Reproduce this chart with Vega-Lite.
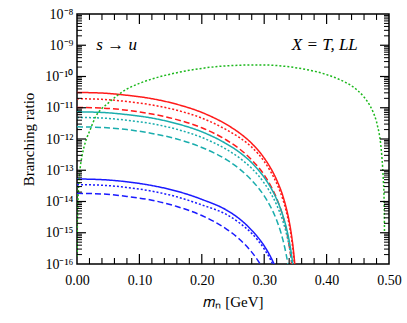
{
"$schema":"https://vega.github.io/schema/vega-lite/v6.json",
"width":312,"height":250,"autosize":"none",
"padding":{"left":77,"top":14,"right":18,"bottom":59},
"config":{"font":"Liberation Serif","view":{"stroke":"black","strokeWidth":1.5},
"axis":{"grid":false,"domain":false,"ticks":false,"tickSize":0,"labelColor":"black","titleColor":"black","titleFontWeight":"normal","labelFontSize":14,"titleFontSize":15,"labelFont":"Liberation Serif","titleFont":"Liberation Serif","labelFlush":false,"labelOverlap":false}},
"data":{"values":[
{"x":0,"y":3.09e-11,"s":"rs"},{"x":0.04,"y":2.95e-11,"s":"rs"},{"x":0.08,"y":2.51e-11,"s":"rs"},{"x":0.12,"y":1.95e-11,"s":"rs"},{"x":0.16,"y":1.29e-11,"s":"rs"},{"x":0.2,"y":7.08e-12,"s":"rs"},{"x":0.24,"y":2.88e-12,"s":"rs"},{"x":0.26,"y":1.58e-12,"s":"rs"},{"x":0.28,"y":7.24e-13,"s":"rs"},{"x":0.3,"y":2.45e-13,"s":"rs"},{"x":0.31,"y":1.2e-13,"s":"rs"},{"x":0.32,"y":4.9e-14,"s":"rs"},{"x":0.33,"y":1.48e-14,"s":"rs"},{"x":0.335,"y":6.61e-15,"s":"rs"},{"x":0.34,"y":2.34e-15,"s":"rs"},{"x":0.344,"y":7.76e-16,"s":"rs"},{"x":0.347,"y":2.57e-16,"s":"rs"},{"x":0.35,"y":5.37e-17,"s":"rs"},{"x":0.352,"y":1.12e-17,"s":"rs"},
{"x":0,"y":1.95e-11,"s":"rt"},{"x":0.04,"y":1.86e-11,"s":"rt"},{"x":0.08,"y":1.58e-11,"s":"rt"},{"x":0.12,"y":1.23e-11,"s":"rt"},{"x":0.16,"y":8.32e-12,"s":"rt"},{"x":0.2,"y":4.68e-12,"s":"rt"},{"x":0.24,"y":1.95e-12,"s":"rt"},{"x":0.26,"y":1.12e-12,"s":"rt"},{"x":0.28,"y":5.5e-13,"s":"rt"},{"x":0.3,"y":1.91e-13,"s":"rt"},{"x":0.31,"y":9.33e-14,"s":"rt"},{"x":0.32,"y":3.8e-14,"s":"rt"},{"x":0.33,"y":1.15e-14,"s":"rt"},{"x":0.335,"y":5.13e-15,"s":"rt"},{"x":0.34,"y":1.82e-15,"s":"rt"},{"x":0.344,"y":6.03e-16,"s":"rt"},{"x":0.347,"y":2.0e-16,"s":"rt"},{"x":0.35,"y":4.17e-17,"s":"rt"},
{"x":0,"y":1.02e-11,"s":"rd"},{"x":0.04,"y":9.77e-12,"s":"rd"},{"x":0.08,"y":8.32e-12,"s":"rd"},{"x":0.12,"y":6.31e-12,"s":"rd"},{"x":0.16,"y":4.17e-12,"s":"rd"},{"x":0.2,"y":2.29e-12,"s":"rd"},{"x":0.24,"y":9.12e-13,"s":"rd"},{"x":0.26,"y":4.9e-13,"s":"rd"},{"x":0.28,"y":2.14e-13,"s":"rd"},{"x":0.3,"y":7.08e-14,"s":"rd"},{"x":0.31,"y":3.31e-14,"s":"rd"},{"x":0.32,"y":1.26e-14,"s":"rd"},{"x":0.33,"y":3.31e-15,"s":"rd"},{"x":0.335,"y":1.35e-15,"s":"rd"},{"x":0.34,"y":3.98e-16,"s":"rd"},{"x":0.344,"y":1.0e-16,"s":"rd"},{"x":0.347,"y":2.24e-17,"s":"rd"},
{"x":0,"y":7.41e-12,"s":"cs"},{"x":0.04,"y":7.08e-12,"s":"cs"},{"x":0.08,"y":6.03e-12,"s":"cs"},{"x":0.12,"y":4.68e-12,"s":"cs"},{"x":0.16,"y":3.09e-12,"s":"cs"},{"x":0.2,"y":1.7e-12,"s":"cs"},{"x":0.24,"y":6.92e-13,"s":"cs"},{"x":0.26,"y":3.8e-13,"s":"cs"},{"x":0.28,"y":1.74e-13,"s":"cs"},{"x":0.3,"y":5.89e-14,"s":"cs"},{"x":0.31,"y":2.88e-14,"s":"cs"},{"x":0.32,"y":1.17e-14,"s":"cs"},{"x":0.33,"y":3.55e-15,"s":"cs"},{"x":0.335,"y":1.58e-15,"s":"cs"},{"x":0.34,"y":5.62e-16,"s":"cs"},{"x":0.344,"y":1.86e-16,"s":"cs"},{"x":0.347,"y":6.17e-17,"s":"cs"},
{"x":0,"y":4.9e-12,"s":"ct"},{"x":0.04,"y":4.68e-12,"s":"ct"},{"x":0.08,"y":3.98e-12,"s":"ct"},{"x":0.12,"y":3.09e-12,"s":"ct"},{"x":0.16,"y":2.04e-12,"s":"ct"},{"x":0.2,"y":1.12e-12,"s":"ct"},{"x":0.24,"y":4.57e-13,"s":"ct"},{"x":0.26,"y":2.51e-13,"s":"ct"},{"x":0.28,"y":1.15e-13,"s":"ct"},{"x":0.3,"y":3.89e-14,"s":"ct"},{"x":0.31,"y":1.91e-14,"s":"ct"},{"x":0.32,"y":7.76e-15,"s":"ct"},{"x":0.33,"y":2.34e-15,"s":"ct"},{"x":0.335,"y":1.05e-15,"s":"ct"},{"x":0.34,"y":3.72e-16,"s":"ct"},{"x":0.344,"y":1.23e-16,"s":"ct"},{"x":0.347,"y":4.07e-17,"s":"ct"},
{"x":0,"y":2.45e-12,"s":"cd"},{"x":0.04,"y":2.34e-12,"s":"cd"},{"x":0.08,"y":2.0e-12,"s":"cd"},{"x":0.12,"y":1.51e-12,"s":"cd"},{"x":0.16,"y":1.0e-12,"s":"cd"},{"x":0.2,"y":5.37e-13,"s":"cd"},{"x":0.24,"y":2.14e-13,"s":"cd"},{"x":0.26,"y":1.12e-13,"s":"cd"},{"x":0.28,"y":4.79e-14,"s":"cd"},{"x":0.3,"y":1.51e-14,"s":"cd"},{"x":0.31,"y":6.92e-15,"s":"cd"},{"x":0.32,"y":2.51e-15,"s":"cd"},{"x":0.33,"y":5.89e-16,"s":"cd"},{"x":0.335,"y":2.14e-16,"s":"cd"},{"x":0.338,"y":1.0e-16,"s":"cd"},{"x":0.341,"y":3.8e-17,"s":"cd"},
{"x":0,"y":5.25e-14,"s":"bs"},{"x":0.04,"y":5.01e-14,"s":"bs"},{"x":0.08,"y":4.27e-14,"s":"bs"},{"x":0.12,"y":3.24e-14,"s":"bs"},{"x":0.16,"y":2.14e-14,"s":"bs"},{"x":0.2,"y":1.17e-14,"s":"bs"},{"x":0.24,"y":5.25e-15,"s":"bs"},{"x":0.26,"y":2.82e-15,"s":"bs"},{"x":0.28,"y":1.2e-15,"s":"bs"},{"x":0.3,"y":3.8e-16,"s":"bs"},{"x":0.31,"y":1.74e-16,"s":"bs"},{"x":0.32,"y":6.46e-17,"s":"bs"},
{"x":0,"y":3.47e-14,"s":"bt"},{"x":0.04,"y":3.31e-14,"s":"bt"},{"x":0.08,"y":2.82e-14,"s":"bt"},{"x":0.12,"y":2.14e-14,"s":"bt"},{"x":0.16,"y":1.41e-14,"s":"bt"},{"x":0.2,"y":7.76e-15,"s":"bt"},{"x":0.24,"y":3.8e-15,"s":"bt"},{"x":0.26,"y":2.09e-15,"s":"bt"},{"x":0.28,"y":9.55e-16,"s":"bt"},{"x":0.3,"y":3.02e-16,"s":"bt"},{"x":0.31,"y":1.38e-16,"s":"bt"},{"x":0.32,"y":5.01e-17,"s":"bt"},
{"x":0,"y":1.82e-14,"s":"bd"},{"x":0.04,"y":1.74e-14,"s":"bd"},{"x":0.08,"y":1.45e-14,"s":"bd"},{"x":0.12,"y":1.1e-14,"s":"bd"},{"x":0.16,"y":6.92e-15,"s":"bd"},{"x":0.2,"y":3.55e-15,"s":"bd"},{"x":0.24,"y":1.29e-15,"s":"bd"},{"x":0.26,"y":6.31e-16,"s":"bd"},{"x":0.28,"y":2.4e-16,"s":"bd"},{"x":0.29,"y":1.29e-16,"s":"bd"},{"x":0.3,"y":5.89e-17,"s":"bd"},
{"x":0.0002,"y":1.78e-16,"s":"g"},{"x":0.0005,"y":1.12e-15,"s":"g"},{"x":0.001,"y":4.47e-15,"s":"g"},{"x":0.002,"y":1.78e-14,"s":"g"},{"x":0.004,"y":7.08e-14,"s":"g"},{"x":0.008,"y":2.82e-13,"s":"g"},{"x":0.012,"y":6.31e-13,"s":"g"},{"x":0.016,"y":1.12e-12,"s":"g"},{"x":0.02,"y":1.74e-12,"s":"g"},{"x":0.03,"y":5.25e-12,"s":"g"},{"x":0.04,"y":9.55e-12,"s":"g"},{"x":0.05,"y":1.41e-11,"s":"g"},{"x":0.06,"y":2.09e-11,"s":"g"},{"x":0.08,"y":3.98e-11,"s":"g"},{"x":0.1,"y":6.03e-11,"s":"g"},{"x":0.12,"y":8.32e-11,"s":"g"},{"x":0.14,"y":1.07e-10,"s":"g"},{"x":0.16,"y":1.32e-10,"s":"g"},{"x":0.18,"y":1.58e-10,"s":"g"},{"x":0.2,"y":1.82e-10,"s":"g"},{"x":0.22,"y":2.04e-10,"s":"g"},{"x":0.24,"y":2.19e-10,"s":"g"},{"x":0.26,"y":2.29e-10,"s":"g"},{"x":0.28,"y":2.34e-10,"s":"g"},{"x":0.3,"y":2.34e-10,"s":"g"},{"x":0.32,"y":2.24e-10,"s":"g"},{"x":0.34,"y":2.04e-10,"s":"g"},{"x":0.36,"y":1.78e-10,"s":"g"},{"x":0.38,"y":1.48e-10,"s":"g"},{"x":0.4,"y":1.15e-10,"s":"g"},{"x":0.42,"y":8.13e-11,"s":"g"},{"x":0.44,"y":5.01e-11,"s":"g"},{"x":0.45,"y":3.55e-11,"s":"g"},{"x":0.46,"y":2.19e-11,"s":"g"},{"x":0.47,"y":1.12e-11,"s":"g"},{"x":0.475,"y":6.92e-12,"s":"g"},{"x":0.48,"y":3.55e-12,"s":"g"},{"x":0.482,"y":2.4e-12,"s":"g"},{"x":0.4845,"y":1.41e-12,"s":"g"},{"x":0.4866,"y":7.08e-13,"s":"g"},{"x":0.4885,"y":2.82e-13,"s":"g"},{"x":0.4899,"y":1.17e-13,"s":"g"},{"x":0.491,"y":4.47e-14,"s":"g"},{"x":0.492,"y":1.58e-14,"s":"g"},{"x":0.4925,"y":3.98e-15,"s":"g"},{"x":0.4928,"y":1.0e-15,"s":"g"}
]},
"layer":[
{"mark":{"type":"line","clip":true,"interpolate":"monotone"},
"encoding":{
"x":{"field":"x","type":"quantitative","scale":{"domain":[0,0.5],"nice":false,"zero":false},
"axis":{"orient":"bottom","values":[0,0.1,0.2,0.3,0.4,0.5],"format":".2f","labelPadding":9,"title":"𝑚ₙ [GeV]","titlePadding":7}},
"y":{"field":"y","type":"quantitative","scale":{"type":"log","domain":[1e-16,1e-8],"nice":false},
"axis":{"orient":"left","values":[1e-16,1e-15,1e-14,1e-13,1e-12,1e-11,1e-10,1e-9,1e-8],"labelPadding":4,
"labelExpr":"'10' + ['⁻⁸','⁻⁹','⁻¹⁰','⁻¹¹','⁻¹²','⁻¹³','⁻¹⁴','⁻¹⁵','⁻¹⁶'][round(-log(datum.value)/LN10) - 8]","title":"Branching ratio","titlePadding":8}},
"color":{"field":"s","type":"nominal","legend":null,"scale":{"domain":["rs","rt","rd","cs","ct","cd","bs","bt","bd","g"],"range":["#ff1a1a","#ff1a1a","#ff1a1a","#1aadad","#1aadad","#1aadad","#1a1aff","#1a1aff","#1a1aff","#1db81d"]}},
"strokeDash":{"field":"s","type":"nominal","legend":null,"scale":{"domain":["rs","rt","rd","cs","ct","cd","bs","bt","bd","g"],"range":[[1,0],[2,2],[6,3],[1,0],[2,2],[6,3],[1,0],[2,2],[6,3],[2,2]]}},
"strokeWidth":{"field":"s","type":"nominal","legend":null,"scale":{"domain":["rs","rt","rd","cs","ct","cd","bs","bt","bd","g"],"range":[1.5,1.5,1.5,1.5,1.5,1.5,1.5,1.5,1.5,2]}}
}},
{"data":{"values":[{"v":0.1},{"v":0.2},{"v":0.3},{"v":0.4}]},
"mark":{"type":"rule","color":"black","strokeWidth":1.2},
"encoding":{"x":{"field":"v","type":"quantitative"},"y":{"datum":1e-16},"y2":{"datum":2.09e-16}}},
{"data":{"values":[{"v":0.1},{"v":0.2},{"v":0.3},{"v":0.4}]},
"mark":{"type":"rule","color":"black","strokeWidth":1.2},
"encoding":{"x":{"field":"v","type":"quantitative"},"y":{"datum":1e-8},"y2":{"datum":4.79e-9}}},
{"data":{"values":[{"v":0.02},{"v":0.04},{"v":0.06},{"v":0.08},{"v":0.12},{"v":0.14},{"v":0.16},{"v":0.18},{"v":0.22},{"v":0.24},{"v":0.26},{"v":0.28},{"v":0.32},{"v":0.34},{"v":0.36},{"v":0.38},{"v":0.42},{"v":0.44},{"v":0.46},{"v":0.48}]},
"mark":{"type":"rule","color":"black","strokeWidth":1.1},
"encoding":{"x":{"field":"v","type":"quantitative"},"y":{"datum":1e-16},"y2":{"datum":1.55e-16}}},
{"data":{"values":[{"v":0.02},{"v":0.04},{"v":0.06},{"v":0.08},{"v":0.12},{"v":0.14},{"v":0.16},{"v":0.18},{"v":0.22},{"v":0.24},{"v":0.26},{"v":0.28},{"v":0.32},{"v":0.34},{"v":0.36},{"v":0.38},{"v":0.42},{"v":0.44},{"v":0.46},{"v":0.48}]},
"mark":{"type":"rule","color":"black","strokeWidth":1.1},
"encoding":{"x":{"field":"v","type":"quantitative"},"y":{"datum":1e-8},"y2":{"datum":6.46e-9}}},
{"data":{"values":[{"v":1e-15},{"v":1e-14},{"v":1e-13},{"v":1e-12},{"v":1e-11},{"v":1e-10},{"v":1e-9}]},
"mark":{"type":"rule","color":"black","strokeWidth":1.2},
"encoding":{"y":{"field":"v","type":"quantitative"},"x":{"datum":0},"x2":{"datum":0.0144}}},
{"data":{"values":[{"v":1e-15},{"v":1e-14},{"v":1e-13},{"v":1e-12},{"v":1e-11},{"v":1e-10},{"v":1e-9}]},
"mark":{"type":"rule","color":"black","strokeWidth":1.2},
"encoding":{"y":{"field":"v","type":"quantitative"},"x":{"datum":0.5},"x2":{"datum":0.4856}}},
{"data":{"values":[{"v":2e-16},{"v":3e-16},{"v":4e-16},{"v":5e-16},{"v":6e-16},{"v":7e-16},{"v":8e-16},{"v":9e-16},{"v":2e-15},{"v":3e-15},{"v":4e-15},{"v":5e-15},{"v":6e-15},{"v":7e-15},{"v":8e-15},{"v":9e-15},{"v":2e-14},{"v":3e-14},{"v":4e-14},{"v":5e-14},{"v":6e-14},{"v":7e-14},{"v":8e-14},{"v":9e-14},{"v":2e-13},{"v":3e-13},{"v":4e-13},{"v":5e-13},{"v":6e-13},{"v":7e-13},{"v":8e-13},{"v":9e-13},{"v":2e-12},{"v":3e-12},{"v":4e-12},{"v":5e-12},{"v":6e-12},{"v":7e-12},{"v":8e-12},{"v":9e-12},{"v":2e-11},{"v":3e-11},{"v":4e-11},{"v":5e-11},{"v":6e-11},{"v":7e-11},{"v":8e-11},{"v":9e-11},{"v":2e-10},{"v":3e-10},{"v":4e-10},{"v":5e-10},{"v":6e-10},{"v":7e-10},{"v":8e-10},{"v":9e-10},{"v":2e-9},{"v":3e-9},{"v":4e-9},{"v":5e-9},{"v":6e-9},{"v":7e-9},{"v":8e-9},{"v":9e-9}]},
"mark":{"type":"rule","color":"black","strokeWidth":1},
"encoding":{"y":{"field":"v","type":"quantitative"},"x":{"datum":0},"x2":{"datum":0.008}}},
{"data":{"values":[{"v":2e-16},{"v":3e-16},{"v":4e-16},{"v":5e-16},{"v":6e-16},{"v":7e-16},{"v":8e-16},{"v":9e-16},{"v":2e-15},{"v":3e-15},{"v":4e-15},{"v":5e-15},{"v":6e-15},{"v":7e-15},{"v":8e-15},{"v":9e-15},{"v":2e-14},{"v":3e-14},{"v":4e-14},{"v":5e-14},{"v":6e-14},{"v":7e-14},{"v":8e-14},{"v":9e-14},{"v":2e-13},{"v":3e-13},{"v":4e-13},{"v":5e-13},{"v":6e-13},{"v":7e-13},{"v":8e-13},{"v":9e-13},{"v":2e-12},{"v":3e-12},{"v":4e-12},{"v":5e-12},{"v":6e-12},{"v":7e-12},{"v":8e-12},{"v":9e-12},{"v":2e-11},{"v":3e-11},{"v":4e-11},{"v":5e-11},{"v":6e-11},{"v":7e-11},{"v":8e-11},{"v":9e-11},{"v":2e-10},{"v":3e-10},{"v":4e-10},{"v":5e-10},{"v":6e-10},{"v":7e-10},{"v":8e-10},{"v":9e-10},{"v":2e-9},{"v":3e-9},{"v":4e-9},{"v":5e-9},{"v":6e-9},{"v":7e-9},{"v":8e-9},{"v":9e-9}]},
"mark":{"type":"rule","color":"black","strokeWidth":1},
"encoding":{"y":{"field":"v","type":"quantitative"},"x":{"datum":0.5},"x2":{"datum":0.492}}},
{"data":{"values":[{"x":0.031,"y":1e-9,"t":"s → u"}]},
"mark":{"type":"text","align":"left","baseline":"middle","fontSize":17,"fontStyle":"italic","font":"Liberation Serif"},
"encoding":{"x":{"field":"x","type":"quantitative"},"y":{"field":"y","type":"quantitative"},"text":{"field":"t"}}},
{"data":{"values":[{"x":0.45,"y":1e-9,"t":"X = T, LL"}]},
"mark":{"type":"text","align":"right","baseline":"middle","fontSize":17,"fontStyle":"italic","font":"Liberation Serif"},
"encoding":{"x":{"field":"x","type":"quantitative"},"y":{"field":"y","type":"quantitative"},"text":{"field":"t"}}}
]
}
